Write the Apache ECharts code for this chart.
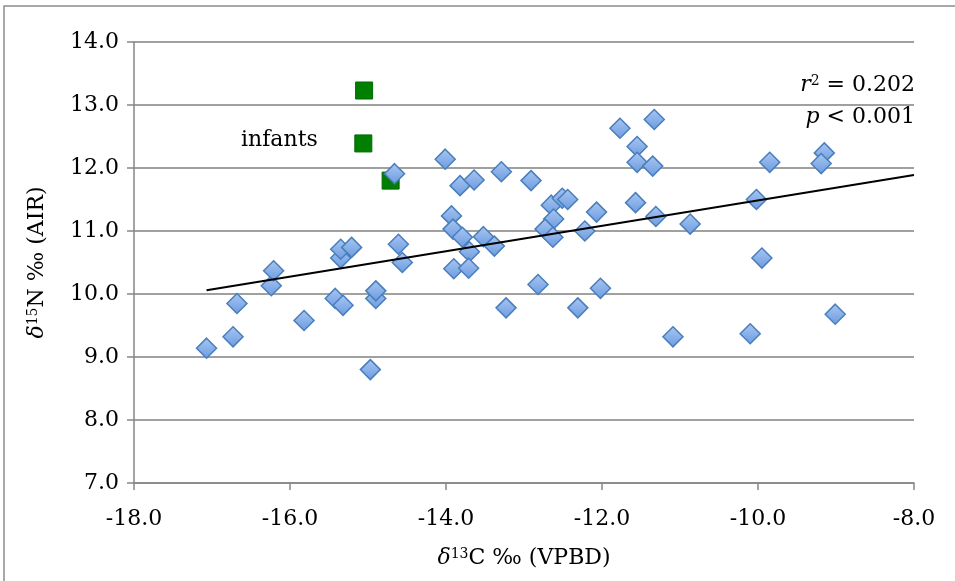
<!DOCTYPE html>
<html>
<head>
<meta charset="utf-8">
<script src="https://cdn.jsdelivr.net/npm/echarts@6/dist/echarts.min.js"></script>
<style>
  html, body { margin: 0; padding: 0; background: #fff; }
  #chart { width: 955px; height: 581px; }
</style>
</head>
<body>
<div id="chart"></div>
<script>
// adult samples: [d13C, d15N]
const adults = [
  [-17.07, 9.14], [-16.73, 9.32], [-16.68, 9.85], [-16.24, 10.13], [-16.21, 10.37],
  [-15.82, 9.58], [-15.42, 9.93], [-15.32, 9.82], [-15.35, 10.57], [-15.35, 10.71],
  [-15.21, 10.74], [-14.97, 8.80], [-14.90, 9.93], [-14.90, 10.05], [-14.61, 10.79],
  [-14.56, 10.50], [-14.66, 11.91], [-14.01, 12.14], [-13.82, 11.72], [-13.64, 11.81],
  [-13.29, 11.94], [-12.91, 11.80], [-13.93, 11.24], [-13.91, 11.03], [-13.79, 10.90],
  [-13.70, 10.67], [-13.90, 10.40], [-13.71, 10.41], [-13.52, 10.91], [-13.38, 10.76],
  [-13.23, 9.78], [-12.82, 10.15], [-12.65, 11.41], [-12.51, 11.52], [-12.44, 11.50],
  [-12.62, 11.19], [-12.73, 11.03], [-12.63, 10.90], [-12.22, 11.00], [-12.07, 11.30],
  [-12.31, 9.78], [-12.02, 10.09], [-11.77, 12.63], [-11.33, 12.77], [-11.55, 12.34],
  [-11.55, 12.09], [-11.35, 12.03], [-11.57, 11.45], [-11.31, 11.23], [-11.09, 9.32],
  [-10.87, 11.11], [-10.10, 9.37], [-10.02, 11.50], [-9.95, 10.57], [-9.85, 12.09],
  [-9.15, 12.24], [-9.19, 12.07], [-9.01, 9.68]
];
const infants = [[-15.05, 13.23], [-15.06, 12.39], [-14.71, 11.80]];
// regression line end points
const trend = [[-17.07, 10.06], [-8.0, 11.89]];

const serif = 'DejaVu Serif';
const grey = '#868686';
const fs = 22;

const rich = {
  i: { fontFamily: serif, fontStyle: 'italic', fontSize: fs, color: '#000' },
  s: { fontFamily: serif, fontSize: 14, color: '#000', verticalAlign: 'top', lineHeight: 14 },
  n: { fontFamily: serif, fontSize: fs, color: '#000' }
};

const chart = echarts.init(document.getElementById('chart'));
chart.setOption({
  animation: false,
  backgroundColor: '#fff',
  grid: { left: 134, right: 41, top: 42, bottom: 98 },
  xAxis: {
    type: 'value', min: -18, max: -8, interval: 2,
    axisLine: { onZero: false, lineStyle: { color: grey, width: 1.5 } },
    axisTick: { show: true, length: 7, lineStyle: { color: grey, width: 1.5 } },
    splitLine: { show: false },
    axisLabel: { margin: 25, color: '#000', fontFamily: serif, fontSize: fs,
      formatter: v => v.toFixed(1) },
    name: '{i|δ}{s|13}{n|C ‰ (VPBD)}',
    nameLocation: 'middle', nameGap: 64,
    nameTextStyle: { rich: rich }
  },
  yAxis: {
    type: 'value', min: 7, max: 14, interval: 1,
    axisLine: { show: true, lineStyle: { color: grey, width: 1.5 } },
    axisTick: { show: true, length: 7, lineStyle: { color: grey, width: 1.5 } },
    splitLine: { lineStyle: { color: '#a0a0a0', width: 2 } },
    axisLabel: { margin: 15, color: '#000', fontFamily: serif, fontSize: fs,
      formatter: v => v.toFixed(1) },
    name: '{i|δ}{s|15}{n|N ‰ (AIR)}',
    nameLocation: 'middle', nameGap: 86, nameRotate: 90,
    nameTextStyle: { rich: rich }
  },
  series: [
    {
      name: 'infants', type: 'scatter', data: infants,
      symbol: 'rect', symbolSize: 17,
      itemStyle: { color: '#007f00', borderColor: '#006a00', borderWidth: 1, opacity: 1 }
    },
    {
      name: 'adults', type: 'scatter', data: adults,
      symbol: 'diamond', symbolSize: 20,
      itemStyle: {
        opacity: 1,
        color: new echarts.graphic.LinearGradient(0, 0, 0, 1, [
          { offset: 0, color: '#a9c7f2' },
          { offset: 1, color: '#6b9be0' }
        ]),
        borderColor: '#4a7ebb', borderWidth: 1.5
      }
    },
    {
      name: 'trend', type: 'line', data: trend,
      symbol: 'none', silent: true, z: 5,
      lineStyle: { color: '#000', width: 2 }
    }
  ],
  graphic: [
    { type: 'rect', shape: { x: 4, y: 6, width: 1200, height: 1200 },
      style: { fill: 'none', stroke: '#8c8c8c', lineWidth: 1.5 }, z: -10, silent: true },
    { type: 'text', left: 241, top: 129,
      style: { text: 'infants', fontFamily: serif, fontSize: fs, fill: '#000' } },
    { type: 'text', right: 40, top: 74,
      style: { text: '{i|r}{s|2}{n| = 0.202}', align: 'right',
        rich: {
          i: { fontFamily: serif, fontStyle: 'italic', fontSize: fs, fill: '#000' },
          s: { fontFamily: serif, fontSize: 14, fill: '#000', verticalAlign: 'top', lineHeight: 14 },
          n: { fontFamily: serif, fontSize: fs, fill: '#000' }
        } } },
    { type: 'text', right: 40, top: 106,
      style: { text: '{i|p}{n| < 0.001}', align: 'right',
        rich: {
          i: { fontFamily: serif, fontStyle: 'italic', fontSize: fs, fill: '#000' },
          n: { fontFamily: serif, fontSize: fs, fill: '#000' }
        } } }
  ]
});
</script>
</body>
</html>
